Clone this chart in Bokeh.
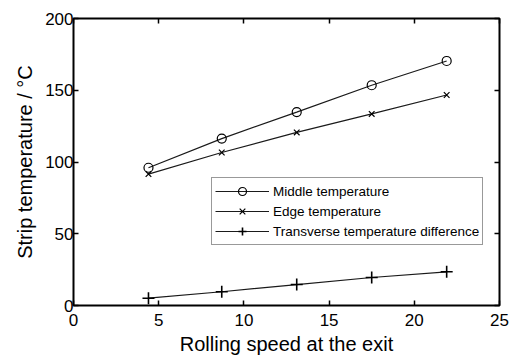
from bokeh.plotting import figure
from bokeh.models import (LinearAxis, FixedTicker, Range1d, Legend, LegendItem,
                          ColumnDataSource, CustomLabelingPolicy)
from bokeh.embed import file_html
from bokeh.resources import INLINE

# Exit rolling speed and measured strip temperatures (°C)
speed = [4.4, 8.7, 13.1, 17.5, 21.9]
middle_temp = [96.0, 116.3, 134.8, 153.5, 170.4]
edge_temp = [91.6, 106.6, 120.6, 133.5, 146.7]
temp_diff = [5.1, 9.6, 14.6, 19.5, 23.5]

x_ticks = [0, 5, 10, 15, 20, 25]
y_ticks = [0, 50, 100, 150, 200]

FONT = "Liberation Sans"

p = figure(width=522, height=357, output_backend="svg", toolbar_location=None,
           x_range=Range1d(0, 25), y_range=Range1d(0, 200),
           min_border_left=73, min_border_right=23,
           min_border_top=18, min_border_bottom=51)
p.background_fill_color = "white"
p.border_fill_color = "white"
p.outline_line_color = "black"
p.outline_line_width = 2
p.xgrid.visible = False
p.ygrid.visible = False

HIDE_LABELS = """
const all = Array.from(indices)
for (const i of all) indices.unset(i)
return indices
"""


def style_axis(ax, ticks, labels=True):
    ax.ticker = FixedTicker(ticks=ticks)
    ax.axis_line_color = None
    ax.major_tick_in = 5
    ax.major_tick_out = 0
    ax.major_tick_line_color = "black"
    ax.major_tick_line_width = 1.5
    ax.minor_tick_line_color = None
    ax.major_label_text_font = FONT
    ax.major_label_text_color = "black"
    if labels:
        ax.major_label_text_font_size = "17px"
    else:
        # tick marks only: no labels and no space kept for them
        ax.major_label_text_font_size = "0px"
        ax.major_label_policy = CustomLabelingPolicy(code=HIDE_LABELS)
        ax.major_label_standoff = 0


style_axis(p.xaxis[0], x_ticks)
style_axis(p.yaxis[0], y_ticks)
p.xaxis.major_label_standoff = 8
p.yaxis.major_label_standoff = 0

p.xaxis.axis_label = "Rolling speed at the exit"
p.yaxis.axis_label = "Strip temperature / °C"
for ax in (p.xaxis[0], p.yaxis[0]):
    ax.axis_label_text_font = FONT
    ax.axis_label_text_font_size = "20px"
    ax.axis_label_text_font_style = "normal"
    ax.axis_label_text_color = "black"
p.xaxis.axis_label_standoff = 4
p.yaxis.axis_label_standoff = 6

# mirrored tick marks on the top and right edges of the box
top_axis = LinearAxis()
right_axis = LinearAxis()
style_axis(top_axis, x_ticks, labels=False)
style_axis(right_axis, y_ticks, labels=False)
p.add_layout(top_axis, "above")
p.add_layout(right_axis, "right")

src = ColumnDataSource(dict(x=speed, mid=middle_temp, edge=edge_temp, diff=temp_diff))

LINE = "#1a1a1a"
mid_line = p.line("x", "mid", source=src, line_color=LINE, line_width=1.2)
mid_pts = p.scatter("x", "mid", source=src, marker="circle", size=9,
                    fill_color=None, line_color="black", line_width=1.2)
edge_line = p.line("x", "edge", source=src, line_color=LINE, line_width=1.2)
edge_pts = p.scatter("x", "edge", source=src, marker="x", size=8,
                     line_color="black", line_width=1.2)
diff_line = p.line("x", "diff", source=src, line_color=LINE, line_width=1.2)
diff_pts = p.scatter("x", "diff", source=src, marker="cross", size=12,
                     line_color="black", line_width=1.6)

legend = Legend(items=[
    LegendItem(label="Middle temperature", renderers=[mid_line, mid_pts]),
    LegendItem(label="Edge temperature", renderers=[edge_line, edge_pts]),
    LegendItem(label="Transverse temperature difference", renderers=[diff_line, diff_pts]),
], location=(138, 60))
legend.margin = 0
legend.padding = 3
legend.spacing = 0
legend.glyph_width = 54
legend.glyph_height = 20
legend.label_height = 20
legend.label_standoff = 4
legend.label_text_font = FONT
legend.label_text_font_size = "13.5px"
legend.label_text_color = "black"
legend.border_line_color = "#333333"
legend.border_line_width = 1
legend.background_fill_color = "white"
legend.background_fill_alpha = 1
p.add_layout(legend, "center")

open("out.html", "w").write(file_html(p, INLINE))
